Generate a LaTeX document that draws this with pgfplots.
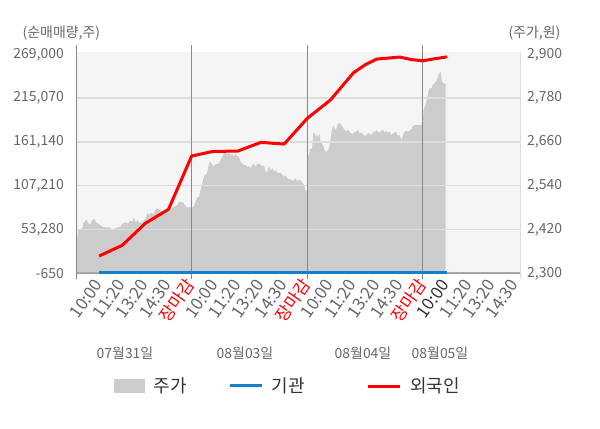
\documentclass[border=0pt]{standalone}
\usepackage{fontspec}
\setmainfont{Noto Sans CJK KR}
\usepackage{pgfplots}
\pgfplotsset{compat=1.18}
\definecolor{areagray}{HTML}{CCCCCC}
\definecolor{bggray}{HTML}{F5F5F5}
\definecolor{gridgray}{HTML}{DDDDDD}
\definecolor{linegray}{HTML}{888888}
\definecolor{txtgray}{HTML}{666666}
\definecolor{legtxt}{HTML}{333333}
\definecolor{kblue}{HTML}{1480CC}
\definecolor{kred}{HTML}{FF0000}

\pgfplotstableread{
u p
0 2290
0 2393
0.058 2393
0.087 2418.6
0.274 2423.2
0.317 2436.9
0.375 2441.5
0.461 2447.9
0.519 2438.7
0.606 2432.3
0.663 2441.5
0.75 2447.9
0.807 2447.9
0.894 2438.7
0.952 2436.9
1.038 2432.3
1.139 2427.8
1.283 2426.0
1.427 2426.0
1.499 2422.3
1.571 2420.5
1.644 2420.5
1.716 2424.1
1.932 2427.8
2.004 2435.1
2.076 2438.7
2.191 2438.7
2.249 2435.1
2.336 2444.2
2.437 2441.5
2.509 2453.4
2.581 2438.7
2.653 2446.0
2.725 2438.7
2.797 2438.7
2.869 2441.5
2.941 2446.0
3.013 2450.6
3.085 2464.3
3.157 2459.7
3.23 2466.1
3.345 2462.5
3.446 2475.3
3.518 2478.0
3.633 2473.4
3.734 2466.1
3.806 2468.9
3.878 2473.4
3.95 2471.6
4.022 2475.3
4.095 2475.3
4.239 2482.6
4.383 2487.1
4.455 2495.4
4.527 2495.4
4.642 2493.5
4.7 2487.1
4.787 2480.8
4.888 2480.8
4.96 2480.8
5.0 2478.0
5.03 2480.7
5.10 2484.4
5.17 2496.2
5.245 2508.1
5.317 2509.9
5.389 2528.2
5.461 2546.5
5.533 2566.6
5.606 2569.3
5.678 2575.7
5.75 2601.3
5.822 2605.8
5.894 2596.7
5.966 2592.1
6.038 2599.4
6.11 2599.4
6.182 2601.3
6.254 2610.4
6.326 2619.5
6.398 2628.7
6.471 2630.5
6.543 2626.8
6.615 2628.7
6.687 2624.1
6.759 2626.8
6.831 2619.5
6.903 2626.8
6.975 2621.4
7.047 2617.7
7.119 2605.8
7.191 2601.3
7.264 2596.7
7.336 2596.7
7.408 2592.1
7.48 2594.0
7.552 2587.6
7.624 2596.7
7.696 2599.4
7.768 2592.1
7.84 2599.4
7.912 2601.3
7.984 2596.7
8.057 2592.1
8.129 2596.7
8.201 2575.7
8.273 2578.4
8.345 2594.0
8.417 2581.2
8.489 2587.6
8.561 2578.4
8.633 2583.0
8.705 2575.7
8.777 2573.9
8.849 2575.7
8.922 2569.3
8.994 2564.7
9.066 2566.6
9.138 2560.2
9.21 2557.4
9.282 2557.4
9.354 2553.8
9.426 2555.6
9.498 2560.2
9.57 2551.0
9.642 2557.4
9.714 2553.8
9.787 2548.3
9.859 2541.9
9.931 2526.4
9.988 2523.7
10.0 2615.0
10.03 2619.5
10.058 2624.1
10.144 2642.4
10.202 2639.6
10.26 2683.5
10.317 2685.3
10.375 2674.3
10.433 2678.9
10.49 2672.5
10.533 2683.5
10.577 2660.7
10.634 2656.1
10.678 2651.5
10.75 2637.8
10.822 2630.5
10.894 2637.8
10.966 2647.0
11.009 2667.0
11.067 2692.6
11.11 2706.3
11.153 2701.7
11.211 2692.6
11.269 2697.2
11.326 2709.1
11.398 2712.7
11.471 2706.3
11.543 2699.9
11.615 2692.6
11.687 2689.9
11.759 2692.6
11.831 2688.0
11.903 2683.5
11.975 2681.6
12.047 2687.1
12.119 2688.0
12.191 2692.6
12.264 2683.5
12.336 2685.3
12.408 2681.6
12.48 2676.2
12.552 2678.9
12.624 2683.5
12.696 2683.5
12.768 2678.9
12.84 2685.3
12.912 2688.0
12.984 2692.6
13.057 2688.0
13.129 2685.3
13.201 2690.8
13.273 2694.4
13.345 2685.3
13.417 2690.8
13.489 2683.5
13.561 2689.0
13.633 2678.9
13.705 2683.5
13.777 2685.3
13.849 2687.1
13.922 2676.2
13.994 2678.9
14.066 2665.2
14.138 2678.9
14.21 2688.0
14.282 2690.8
14.354 2688.0
14.426 2690.8
14.498 2694.4
14.57 2703.6
14.642 2706.3
14.787 2706.3
14.931 2706.3
14.96 2712.7
15.0 2715.4
15.03 2747.4
15.09 2756.5
15.17 2774.8
15.23 2793.1
15.28 2806.8
15.37 2806.8
15.43 2815.9
15.51 2820.5
15.6 2829.6
15.66 2838.7
15.71 2847.9
15.77 2852.4
15.81 2829.6
15.87 2820.5
15.98 2820.5
15.98 2290
}\pricetable

\pgfplotstableread{
u v
1 20650
2 33800
3 60900
4 78100
5 143700
5.9 149300
7 149900
8 160600
8.53 159400
9 158500
10 190100
11 212700
12 246300
12.5 256000
13 263100
14 265600
14.5 262500
15 261000
15.5 263500
16.05 265800
}\foreigntable

\pgfplotstableread{
u v
1 500
16.05 500
}\insttable

\begin{document}
\begin{tikzpicture}[x=1bp,y=1bp]
\useasboundingbox (0,0) rectangle (600,428);
\fill[bggray] (76,154.7) rectangle (520,376.3);
% right axis: price area
\begin{axis}[at={(76bp,154.7bp)}, anchor=south west, scale only axis,
  width=444bp, height=219bp,
  xmin=0, xmax=19.2, ymin=2300, ymax=2900,
  axis line style={draw=none}, major tick length=0pt,
  xtick=\empty,
  scaled y ticks=false,
  ytick={2300,2420,2540,2660,2780,2900},
  yticklabels={{2,300},{2,420},{2,540},{2,660},{2,780},{2,900}},
  yticklabel pos=right,
  yticklabel style={font=\fontsize{14}{16}\selectfont, text=txtgray, anchor=west, inner sep=0pt, xshift=7bp},
]
\addplot[fill=areagray, draw=none] table[x=u, y=p] {\pricetable};
\end{axis}
% left axis: net buying
\begin{axis}[at={(76bp,154.7bp)}, anchor=south west, scale only axis,
  width=444bp, height=219bp,
  xmin=0, xmax=19.2, ymin=-650, ymax=269000,
  clip=false,
  scaled y ticks=false,
  axis line style={draw=none}, major tick length=0pt,
  ytick={-650,53280,107210,161140,215070,269000},
  yticklabels={-650,{53,280},{107,210},{161,140},{215,070},{269,000}},
  yticklabel style={font=\fontsize{14}{16}\selectfont, text=txtgray, anchor=east, inner sep=0pt, xshift=-12bp},
  extra y ticks={53280,107210,161140,215070},
  extra y tick labels={},
  extra y tick style={grid=major, major grid style={gridgray, line width=1.4bp}},
  xtick={1,2,...,19},
  xticklabels={10:00,11:20,13:20,14:30,\textcolor{kred}{장마감},10:00,11:20,13:20,14:30,\textcolor{kred}{장마감},10:00,11:20,13:20,14:30,\textcolor{kred}{장마감},\textcolor{legtxt}{10:00},11:20,13:20,14:30},
  xticklabel style={xshift=-1bp, yshift=-8bp, rotate=55, anchor=east, inner sep=0pt, font=\fontsize{17}{19}\selectfont, text=txtgray},
]
% axis frame pieces
\draw[gridgray, line width=1bp] (axis cs:19.2,-650) -- ([yshift=2bp]axis cs:19.2,269000);
\draw[linegray!80, line width=1bp] (axis cs:0,-650) -- (axis cs:19.2,-650);
\addplot[linegray!70, line width=0.8bp] table[x=u, y=v] {
u v
0 0
19.2 0
};
\draw[linegray, line width=1bp] ([yshift=-6bp]axis cs:0,-650) -- ([yshift=9bp]axis cs:0,269000);
\draw[linegray, line width=1bp] ([yshift=-6bp]axis cs:5,-650) -- ([yshift=9bp]axis cs:5,269000);
\draw[linegray, line width=1bp] ([yshift=-6bp]axis cs:10,-650) -- ([yshift=9bp]axis cs:10,269000);
\draw[linegray, line width=1bp] ([yshift=-6bp]axis cs:15,-650) -- ([yshift=9bp]axis cs:15,269000);
\draw[gridgray, line width=1bp] ([yshift=-6bp]axis cs:19.2,-650) -- (axis cs:19.2,-650);
\addplot[kblue, line width=3bp] table[x=u, y=v] {\insttable};
\addplot[kred, line width=3bp, line join=round] table[x=u, y=v] {\foreigntable};
\end{axis}
% axis titles
\node[anchor=west, inner sep=0pt, text=txtgray, font=\fontsize{14}{16}\selectfont] at (22.5,394.7) {(순매매량,주)};
\node[anchor=west, inner sep=0pt, text=txtgray, font=\fontsize{14}{16}\selectfont] at (508.3,394.7) {(주가,원)};
% date labels
\foreach \cx/\lab in {125/07월31일, 245/08월03일, 363/08월04일, 440/08월05일}{
  \node[inner sep=0pt, text=txtgray, font=\fontsize{14}{16}\selectfont] at (\cx,75) {\lab};
}
% legend
\fill[areagray] (114,34.7) rectangle (145,49);
\node[anchor=west, inner sep=0pt, text=legtxt, font=\fontsize{18}{20}\selectfont] at (153.3,42) {주가};
\draw[kblue, line width=3bp] (230,42.3) -- (261.7,42.3);
\node[anchor=west, inner sep=0pt, text=legtxt, font=\fontsize{18}{20}\selectfont] at (271.7,42) {기관};
\draw[kred, line width=3bp] (368.3,42) -- (400,42);
\node[anchor=west, inner sep=0pt, text=legtxt, font=\fontsize{18}{20}\selectfont] at (410,42) {외국인};
\end{tikzpicture}
\end{document}
